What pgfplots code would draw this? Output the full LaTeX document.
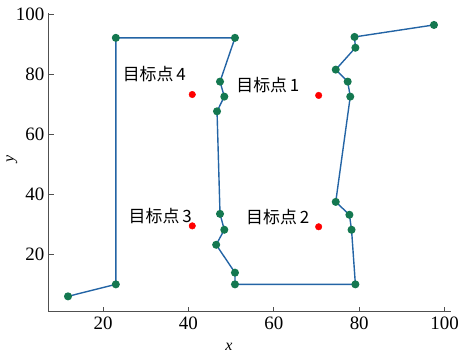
\documentclass[border=0pt]{standalone}
\usepackage{fontspec}
\setmainfont{Liberation Serif}
\newfontfamily\cjk{Noto Sans CJK SC}
\usepackage{pgfplots}
\pgfplotsset{compat=1.18}
\definecolor{linec}{RGB}{35,100,165}
\definecolor{markc}{RGB}{20,120,80}
\definecolor{spine}{RGB}{80,80,80}
\begin{document}
\fontsize{19}{22}\selectfont
\begin{tikzpicture}
\path[use as bounding box] (-49pt,-41pt) rectangle (412pt,313pt);
\begin{axis}[
  at={(0pt,0pt)}, anchor=south west,
  scale only axis, width=404pt, height=300pt,
  xmin=7.3, xmax=101.5, ymin=0.9, ymax=100.5,
  axis x line*=bottom, axis y line*=left,
  axis line style={spine, line width=1.3pt, -},
  tick style={spine, line width=1pt},
  tick align=inside, major tick length=5pt,
  xtick={20,40,60,80,100}, ytick={20,40,60,80,100},
  /pgf/number format/assume math mode=true,
  ticklabel style={font=\fontsize{19}{22}\selectfont},
  xticklabel style={yshift=1pt},
  yticklabel style={xshift=2pt},
  clip=false,
]
\addplot[linec, line width=1.4pt, mark=*, mark size=3.3pt, mark options={fill=markc, draw=markc}] coordinates {
(11.8,6.0) (23.0,10.0) (23.0,92.2) (50.9,92.2) (47.4,77.6) (48.4,72.6) (46.7,67.7)
(47.4,33.5) (48.4,28.2) (46.5,23.2) (50.9,13.9) (50.9,10.0) (79.1,10.0)
(78.2,28.2) (77.7,33.2) (74.5,37.5) (77.9,72.6) (77.3,77.6) (74.5,81.6)
(79.1,88.9) (78.9,92.5) (97.5,96.5)
};
\addplot[only marks, mark=*, mark size=3.3pt, red, mark options={fill=red, draw=red}] coordinates {
(40.9,73.3) (70.5,73.0) (40.9,29.5) (70.5,29.2)
};
\node[font=\cjk\fontsize{17}{20}\selectfont] at (axis cs:32.0,80.0) {目标点\,4};
\node[font=\cjk\fontsize{17}{20}\selectfont] at (axis cs:58.6,76.3) {目标点\,1};
\node[font=\cjk\fontsize{17}{20}\selectfont] at (axis cs:33.4,32.8) {目标点\,3};
\node[font=\cjk\fontsize{17}{20}\selectfont] at (axis cs:60.9,32.5) {目标点\,2};
\node[font=\fontsize{16}{18}\selectfont\itshape] at ([yshift=-35pt]rel axis cs:0.448,0) {x};
\node[font=\fontsize{16}{18}\selectfont\itshape, rotate=90] at ([xshift=-37pt]rel axis cs:0,0.51) {y};
\end{axis}
\end{tikzpicture}
\end{document}
